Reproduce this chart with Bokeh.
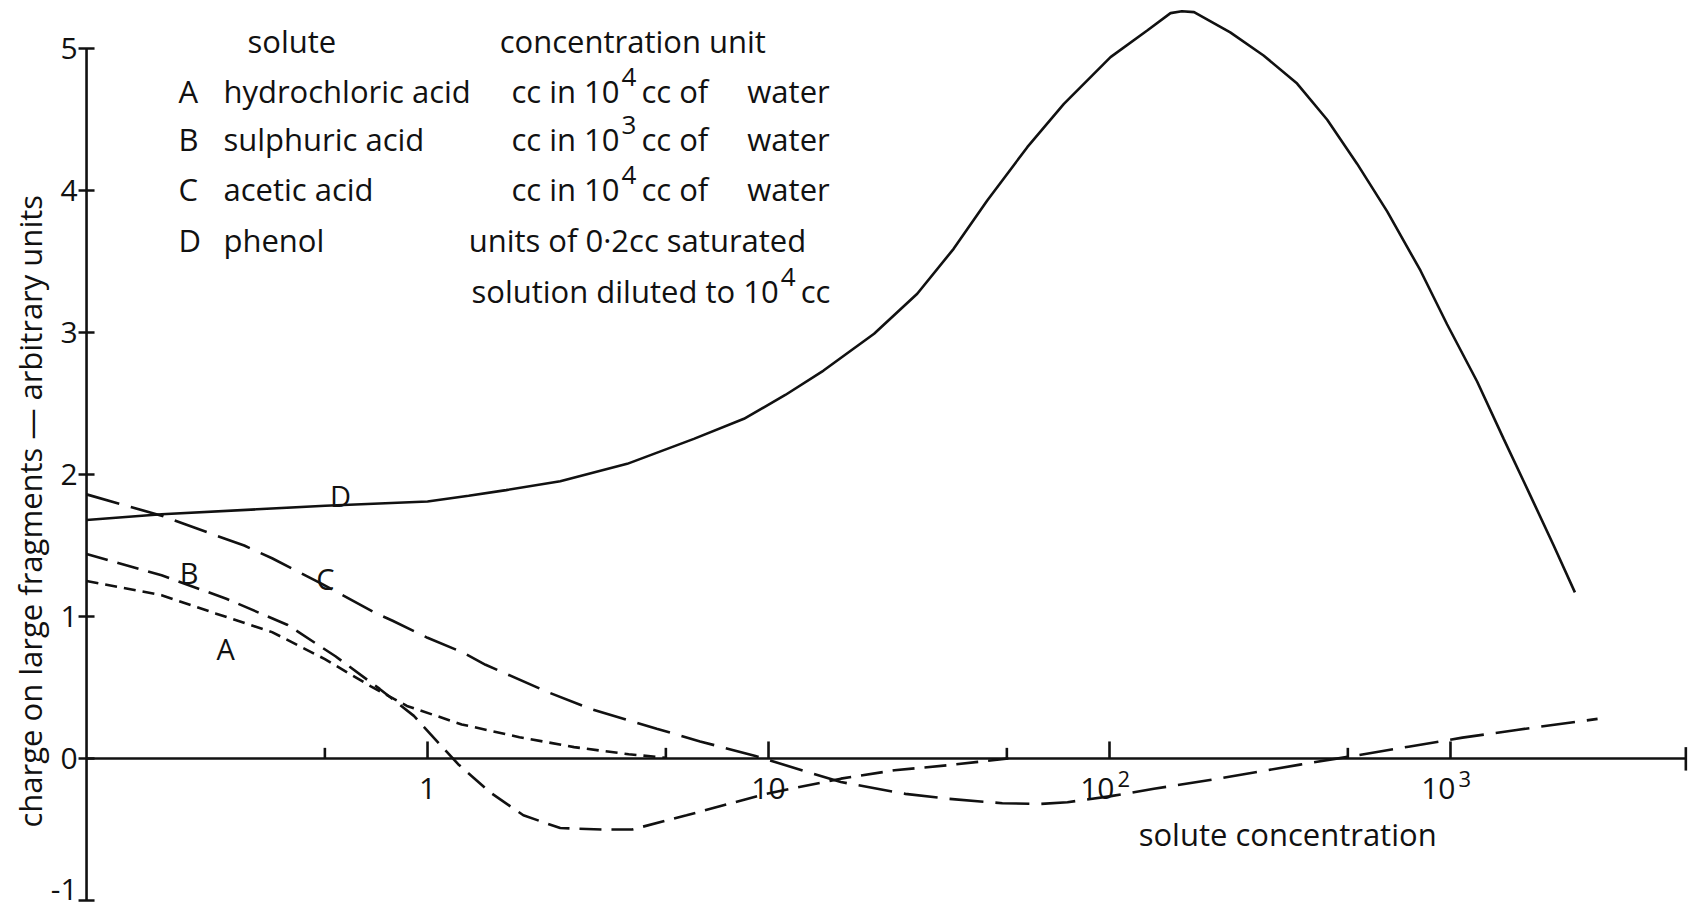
from bokeh.plotting import figure
from bokeh.models import Range1d, ColumnDataSource, Title
from bokeh.embed import file_html
from bokeh.resources import INLINE
from bokeh.core.properties import value

FONT = "Open Sans"
INK = "#111111"
FS = "31px"

# --- curve data: solute concentration (log axis) vs charge on large fragments ---
a_conc = [0.1, 0.166, 0.24, 0.35, 0.5, 0.68, 0.87, 1.26, 1.86, 2.69, 3.89, 5.0]
a_charge = [1.25, 1.15, 1.02, 0.89, 0.70, 0.51, 0.37, 0.24, 0.15, 0.08, 0.03, 0.005]

b_conc = [0.1, 0.166, 0.257, 0.389, 0.537, 0.724, 0.912, 1.096, 1.23, 1.53,
          1.91, 2.45, 3.24, 3.98, 5.75, 9.77, 16.3, 23.4, 33.7, 50.5]
b_charge = [1.44, 1.29, 1.125, 0.94, 0.72, 0.49, 0.30, 0.09, -0.04, -0.24,
            -0.40, -0.49, -0.50, -0.50, -0.40, -0.25, -0.142, -0.083, -0.047, 0.0]

c_conc = [0.1, 0.166, 0.24, 0.29, 0.35, 0.49, 0.71, 0.79, 1.0, 1.26, 1.48, 2.24,
          3.0, 4.7, 6.3, 9.1, 13.2, 16.3, 25.2, 33.7, 48.5, 62.7, 75.3, 101,
          135, 209, 362, 522, 753, 1084, 1563, 2700]
c_charge = [1.86, 1.71, 1.57, 1.50, 1.41, 1.23, 1.02, 0.97, 0.85, 0.75, 0.66, 0.47,
            0.35, 0.21, 0.12, 0.02, -0.10, -0.166, -0.249, -0.284, -0.315, -0.32, -0.308, -0.265,
            -0.213, -0.142, -0.043, 0.019, 0.083, 0.147, 0.201, 0.279]

d_conc = [0.1, 0.166, 0.316, 0.501, 1.0, 1.32, 1.70, 2.45, 3.85, 6.04, 8.47, 11.2,
          14.5, 20.4, 27.3, 34.9, 43.8, 57.4, 73.5, 100.7, 129, 151, 163, 177,
          226, 283, 355, 435, 532, 652, 817, 977, 1197, 1432, 1718, 2009, 2317]
d_charge = [1.68, 1.72, 1.755, 1.78, 1.81, 1.85, 1.89, 1.953, 2.075, 2.251, 2.392, 2.56,
            2.732, 2.991, 3.273, 3.589, 3.930, 4.305, 4.610, 4.939, 5.127, 5.249, 5.262, 5.256,
            5.114, 4.951, 4.753, 4.498, 4.189, 3.853, 3.435, 3.058, 2.655, 2.251, 1.848, 1.498, 1.170]

# --- axes ---
y_ticks = [-1, 0, 1, 2, 3, 4, 5]
y_tick_labels = [str(t) for t in y_ticks]
x_major_ticks = [1, 10, 100, 1000]
x_label_base = ["1", "10", "10", "10"]
x_label_exp = ["", "", "2", "3"]
x_minor_ticks = [0.5, 5, 50, 500]
x_origin = 0.1
x_axis_end = 4900

# --- key to the curves ---
legend_keys = ["A", "B", "C", "D"]
legend_solutes = ["hydrochloric acid", "sulphuric acid", "acetic acid", "phenol"]
unit_prefix = ["cc in 10", "cc in 10", "cc in 10", "solution diluted to 10"]
unit_exp = ["4", "3", "4", "4"]
unit_suffix = ["cc of\u2003 water", "cc of\u2003 water", "cc of\u2003 water", "cc"]
phenol_unit = "units of 0·2cc saturated"

p = figure(
    width=1688, height=911,
    x_axis_type="log", x_axis_location=None, y_axis_location=None,
    x_range=Range1d(0.0784, 4989), y_range=Range1d(-1.0775, 5.338),
    output_backend="svg", toolbar_location=None,
    min_border_left=50, min_border_right=0, min_border_top=0, min_border_bottom=0,
    background_fill_color="white", border_fill_color="white",
)
p.outline_line_color = None
p.grid.visible = False

p.add_layout(Title(text="charge on large fragments — arbitrary units", align="left",
                   offset=84, standoff=0, text_font=FONT, text_font_size=FS,
                   text_font_style="normal", text_color=INK), "left")

LW = 2.6

def words(x, y, text, align="left", size=FS, **kw):
    p.text(x=x, y=y, text=text, text_font=value(FONT), text_font_size=size,
           text_color=INK, text_align=align, text_baseline="middle", **kw)

# y axis: spine, crossing ticks and labels at the tick values
p.segment(x0=[x_origin], y0=[min(y_ticks)], x1=[x_origin], y1=[max(y_ticks)],
          line_color=INK, line_width=LW)
p.scatter(x=[x_origin] * len(y_ticks), y=y_ticks, marker="dash", size=16,
          line_color=INK, line_width=LW)
# the lowest label sits at the page edge, so it is lifted slightly
label_lift = [-11 if t == min(y_ticks) else 0 for t in y_ticks]
words([x_origin] * len(y_ticks), y_ticks, y_tick_labels, align="right", size="30px",
      x_offset=-9, y_offset=label_lift)

# x axis along zero charge
n = len(x_major_ticks)
p.segment(x0=[x_origin], y0=[0], x1=[x_axis_end], y1=[0], line_color=INK, line_width=LW)
p.segment(x0=x_major_ticks, y0=[0] * n, x1=x_major_ticks, y1=[0.12] * n,
          line_color=INK, line_width=LW)
p.segment(x0=x_minor_ticks, y0=[0] * len(x_minor_ticks), x1=x_minor_ticks,
          y1=[0.075] * len(x_minor_ticks), line_color=INK, line_width=LW)
p.segment(x0=[x_axis_end], y0=[-0.085], x1=[x_axis_end], y1=[0.08],
          line_color=INK, line_width=LW)

tick_src = ColumnDataSource(dict(
    x=x_major_ticks, y=[-0.21] * n, base=x_label_base, exp=x_label_exp,
    align=["center" if e == "" else "right" for e in x_label_exp],
    dx=[0 if e == "" else 5 for e in x_label_exp],
))
p.text(x="x", y="y", text="base", source=tick_src, x_offset="dx", text_align="align",
       text_font=value(FONT), text_font_size="30px", text_color=INK, text_baseline="middle")
p.text(x="x", y="y", text="exp", source=tick_src, x_offset=8, y_offset=-9, text_align="left",
       text_font=value(FONT), text_font_size="22px", text_color=INK, text_baseline="middle")

# curves
p.line(a_conc, a_charge, line_color=INK, line_width=LW, line_dash="12 7")
p.line(b_conc, b_charge, line_color=INK, line_width=LW, line_dash="22 10")
p.line(c_conc, c_charge, line_color=INK, line_width=LW, line_dash="34 12")
p.line(d_conc, d_charge, line_color=INK, line_width=LW)

# curve letters
words([0.256, 0.20, 0.502, 0.556], [0.772, 1.312, 1.265, 1.852], legend_keys,
      align="center", size="29px")

# key table
row_y = [4.70, 4.36, 4.01, 3.65]
unit_y = [4.70, 4.36, 4.01, 3.29]
unit_x = [3.68, 3.68, 3.68, 10.78]

words([0.40, 4.0], [5.05, 5.05], ["solute", "concentration unit"], align="center")
words([0.186] * 4, row_y, legend_keys)
words([0.252] * 4, row_y, legend_solutes)
words(unit_x, unit_y, unit_prefix, align="right", x_offset=-1)
words(unit_x, unit_y, unit_exp, size="26px", x_offset=1, y_offset=-14)
words(unit_x, unit_y, unit_suffix, x_offset=21)
words([1.32], [row_y[3]], [phenol_unit])

# x axis title
words([333], [-0.535], ["solute concentration"], align="center")

open("out.html", "w").write(file_html(p, INLINE))
